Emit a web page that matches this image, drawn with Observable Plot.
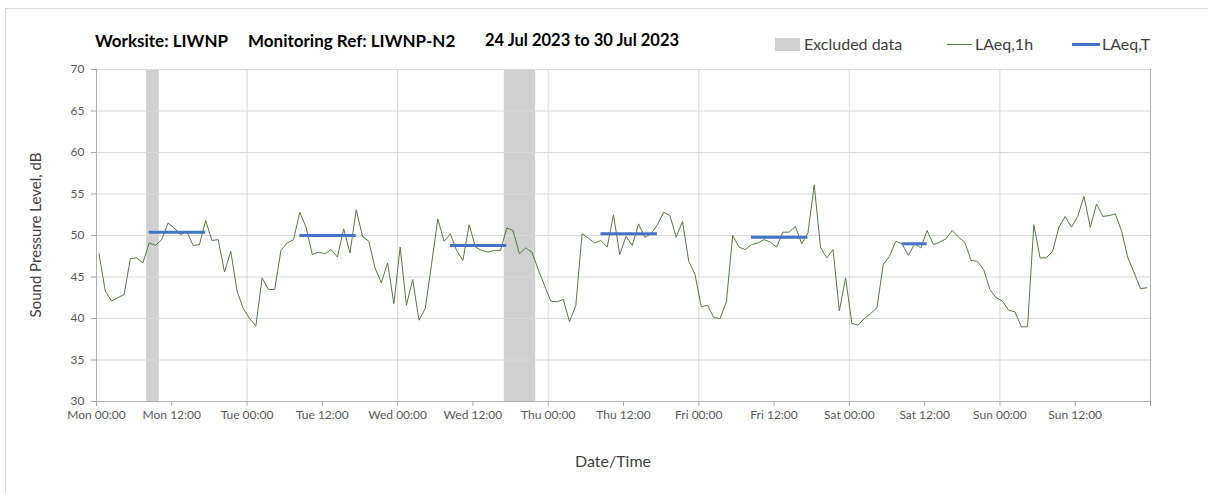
<!DOCTYPE html>
<html>
<head>
<meta charset="utf-8">
<script src="https://cdn.jsdelivr.net/npm/d3@7"></script>
<script src="https://cdn.jsdelivr.net/npm/@observablehq/plot@0.6"></script>
<style>
  html, body { margin: 0; padding: 0; background: #fff; }
  #wrap { position: relative; width: 1208px; height: 493px; overflow: hidden; font-family: Lato, "Open Sans", sans-serif; }
  #border { position: absolute; left: 5px; top: 8px; width: 1300px; height: 600px; border-left: 1px solid #d9d9d9; border-top: 1px solid #d9d9d9; }
  .t { position: absolute; font-weight: bold; font-size: 17px; color: #000; top: 30px; white-space: nowrap; }
  .lg { position: absolute; font-size: 16px; color: #404040; top: 34px; white-space: nowrap; }
  #ylab { position: absolute; left: 35px; top: 235px; transform: translate(-50%, -50%) rotate(-90deg); font-size: 15px; color: #404040; white-space: nowrap; }
  #xlab { position: absolute; left: 613px; top: 460px; transform: translate(-50%, -50%); font-size: 16px; color: #404040; white-space: nowrap; }
  #chart { position: absolute; left: 0; top: 0; }
</style>
</head>
<body>
<div id="wrap">
  <div id="border"></div>
  <div id="chart"></div>
  <div class="t" style="left:95px">Worksite: LIWNP</div>
  <div class="t" style="left:248px">Monitoring Ref: LIWNP-N2</div>
  <div class="t" style="left:485px;font-size:16.5px">24 Jul 2023 to 30 Jul 2023</div>
  <div id="legend"></div>
  <div id="ylab">Sound Pressure Level, dB</div>
  <div id="xlab">Date/Time</div>
</div>
<script>
// ---- Data ----
const dayNames = ["Mon", "Tue", "Wed", "Thu", "Fri", "Sat", "Sun"];
const hourLabels = ["00:00", "12:00"];
const yTicks = [30, 35, 40, 45, 50, 55, 60, 65, 70];
const firstReadingOffset = 0.4; // hours after Mon 00:00 of first reading

// hourly LAeq,1h values, Mon 00:00 onwards (168 values)
const lAeq1h = [
  47.8, 43.3, 42.1, 42.5, 42.9, 47.2, 47.3, 46.7, 49.1, 48.8, 49.5, 51.5, 50.9, 50.1, 50.5, 48.8, 48.9, 51.8, 49.4, 49.5, 45.6, 48.1, 43.3, 41.2,
  40.0, 39.1, 44.9, 43.5, 43.5, 48.2, 49.1, 49.5, 52.8, 51.0, 47.7, 48.0, 47.8, 48.3, 47.4, 50.8, 47.9, 53.1, 49.9, 49.3, 46.1, 44.3, 46.7, 41.8,
  48.6, 41.6, 44.7, 39.8, 41.2, 46.5, 52.0, 49.3, 50.2, 48.2, 47.0, 51.3, 48.6, 48.2, 48.0, 48.2, 48.2, 50.9, 50.6, 47.8, 48.5, 48.0, 45.9, 44.0,
  42.1, 42.0, 42.3, 39.6, 41.6, 50.2, 49.7, 49.1, 49.4, 48.6, 52.5, 47.7, 49.9, 48.8, 51.4, 49.8, 50.2, 51.3, 52.8, 52.4, 49.8, 51.7, 46.9, 45.3,
  41.4, 41.6, 40.1, 40.0, 42.0, 50.0, 48.6, 48.3, 48.9, 49.1, 49.5, 49.2, 48.6, 50.4, 50.4, 51.1, 49.0, 50.3, 56.1, 48.6, 47.3, 48.3, 40.9, 44.9,
  39.4, 39.2, 40.0, 40.6, 41.3, 46.5, 47.5, 49.3, 49.0, 47.6, 49.0, 48.5, 50.6, 48.9, 49.2, 49.6, 50.6, 49.8, 49.2, 47.0, 46.9, 45.9, 43.5, 42.5,
  42.1, 41.0, 40.8, 39.0, 39.0, 51.3, 47.3, 47.3, 48.1, 51.0, 52.3, 51.0, 52.3, 54.7, 51.0, 53.8, 52.3, 52.4, 52.6, 50.5, 47.3, 45.5, 43.6, 43.7
];

// LAeq,T periods: first and last hourly reading index, level
const periodStart = [8, 32, 56, 80, 104, 128];
const periodEnd   = [17, 41, 65, 89, 113, 132];
const periodLevel = [50.4, 50.0, 48.8, 50.2, 49.8, 49.0];

// Excluded data (hours from Mon 00:00)
const excludedStart = [8, 65];
const excludedEnd   = [10, 70];

// ---- Build tables ----
const series = lAeq1h.map((v, i) => ({t: i + firstReadingOffset, v}));
const periods = periodLevel.map((v, i) => ({
  t1: periodStart[i] + firstReadingOffset,
  t2: periodEnd[i] + firstReadingOffset,
  v
}));
const bands = excludedStart.map((s, i) => ({s, e: excludedEnd[i]}));
const xTicks = d3.range(0, 169, 12);
const dayTicks = d3.range(0, 169, 24);
const fmtX = d => d >= 168 ? "" : `${dayNames[Math.floor(d / 24)]} ${hourLabels[(d % 24) / 12]}`;

const plot = Plot.plot({
  width: 1208,
  height: 493,
  marginLeft: 96,
  marginRight: 58,
  marginTop: 69,
  marginBottom: 92,
  style: {fontFamily: "Lato, 'Open Sans', sans-serif", fontSize: "12px", color: "#595959", background: "transparent"},
  x: {domain: [0, 168]},
  y: {domain: [30, 70]},
  marks: [
    Plot.rect(bands, {x1: "s", x2: "e", fill: "#d0d0d0"}),
    Plot.gridY(yTicks, {stroke: "#d9d9d9", strokeOpacity: 1}),
    Plot.gridX(dayTicks, {stroke: "#d9d9d9", strokeOpacity: 1}),
    Plot.axisX({ticks: xTicks, tickFormat: fmtX, tickSize: 5, tickPadding: 4, stroke: "#a6a6a6", label: null, fill: "#595959"}),
    Plot.axisY({ticks: yTicks, tickSize: 5, tickPadding: 7, stroke: "#a6a6a6", label: null, fill: "#595959"}),
    Plot.ruleX([0, 168], {stroke: "#b0b0b0"}),
    Plot.ruleY([30], {stroke: "#b0b0b0"}),
    Plot.line(series, {x: "t", y: "v", stroke: "#557a40", strokeWidth: 1}),
    Plot.ruleY(periods, {x1: "t1", x2: "t2", y: "v", stroke: "#4472c4", strokeWidth: 3})
  ]
});
document.getElementById("chart").appendChild(plot);

// ---- Legend ----
const legend = document.getElementById("legend");
legend.innerHTML = `
  <div style="position:absolute;left:775px;top:38px;width:25px;height:13px;background:#d0d0d0"></div>
  <div class="lg" style="left:804px">Excluded data</div>
  <div style="position:absolute;left:947px;top:44px;width:25px;height:1px;background:#557a40"></div>
  <div class="lg" style="left:975px">LAeq,1h</div>
  <div style="position:absolute;left:1072px;top:43px;width:28px;height:3px;background:#4472c4"></div>
  <div class="lg" style="left:1102px">LAeq,T</div>
`;
</script>
</body>
</html>
